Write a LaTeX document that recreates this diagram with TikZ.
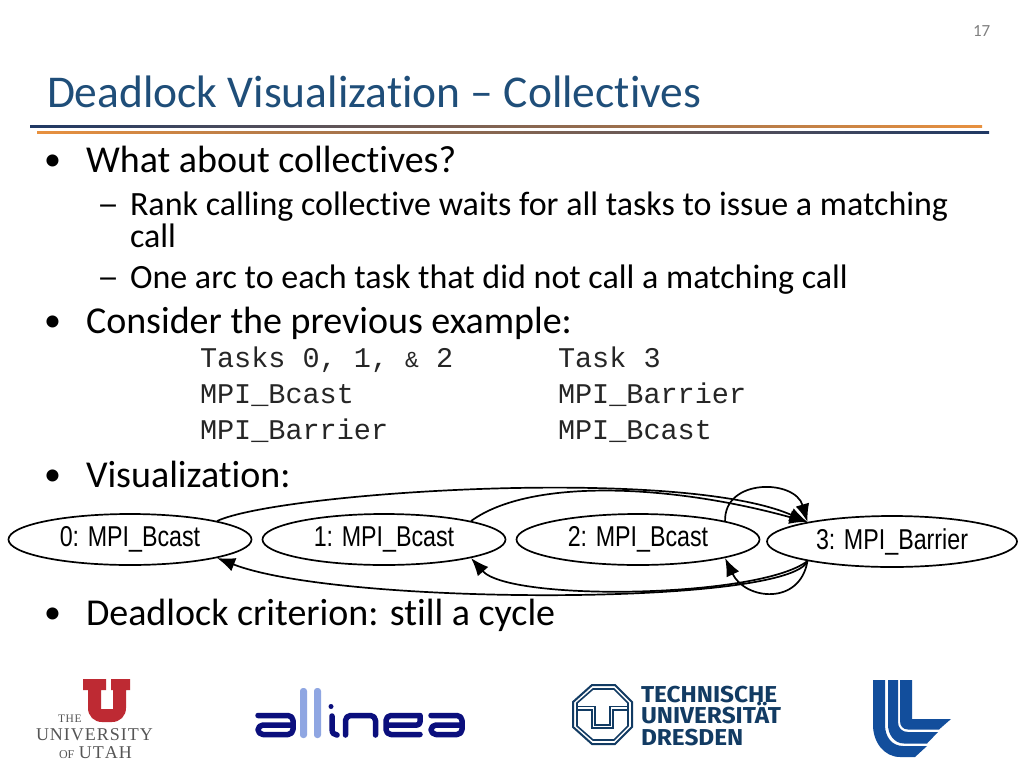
\documentclass[tikz,border=0pt]{standalone}
\usepackage{fontspec}
\setmainfont[Ligatures=NoCommon]{Carlito}
\newfontfamily\monof{Liberation Mono}
\newfontfamily\graphf[FakeStretch=0.81]{Liberation Sans}
\newfontfamily\serif{Liberation Serif}
\newfontfamily\tuf[FakeStretch=1.06]{Fira Sans}
\usetikzlibrary{shapes.geometric,arrows.meta}
\definecolor{titleblue}{HTML}{1F4E79}
\definecolor{ruledark}{HTML}{1F3864}
\definecolor{ruleorange}{HTML}{E8913F}
\definecolor{utahred}{HTML}{BE2A33}
\definecolor{utahgrey}{HTML}{555555}
\definecolor{allnavy}{HTML}{0B0F7D}
\definecolor{alllight}{HTML}{8FA6E2}
\definecolor{tublue}{HTML}{123B63}
\definecolor{llblue}{HTML}{124E9C}
\tikzset{
  x=1pt,y=-1pt,
  txt/.style={inner sep=0pt,outer sep=0pt,anchor=base west,text=black},
  lvlone/.style={txt,font=\fontsize{38}{40}\selectfont},
  lvltwo/.style={txt,font=\fontsize{34}{36}\selectfont},
  bul/.style={txt,font=\fontsize{34}{36}\selectfont},
  dashmark/.style={txt,font=\fontsize{34}{36}\selectfont},
  code/.style={txt,font=\monof\fontsize{28.5}{32}\selectfont,text=black!85},
  rank/.style={draw,line width=1.7pt,ellipse,inner sep=0pt,minimum width=243pt,minimum height=51pt,font=\graphf\fontsize{28.7}{30}\selectfont},
  arc/.style={line width=1.7pt,-{Latex[length=18pt,width=14pt]}},
}
\begin{document}
\begin{tikzpicture}
\useasboundingbox (0,0) rectangle (1024,768);
\fill[white] (0,0) rectangle (1024,768);
\node[txt,text=black!50,font=\fontsize{17}{18}\selectfont] (pg) at (973,37) {17};
\node[txt,text=titleblue,font=\fontsize{45.5}{46}\selectfont] (ttl) at (47,107) {Deadlock Visualization – Collectives};
\shade[left color=ruledark,right color=ruleorange] (30,125) rectangle (982,127);
\shade[left color=ruleorange,right color=ruledark] (37,131) rectangle (989,133);

\node[bul] (b0) at (44,170) {•};
\node[lvlone] (b1) at (86,172) {What about collectives?};
\node[dashmark] (d1) at (97,215) {\scalebox{1.3}[1]{–}};
\node[lvltwo] (s1) at (130,215) {Rank calling collective waits for all tasks to issue a matching};
\node[lvltwo] (s1b) at (130,247) {call};
\node[dashmark] (d2) at (97,288) {\scalebox{1.3}[1]{–}};
\node[lvltwo] (s2) at (130,288) {One arc to each task that did not call a matching call};
\node[bul] (b2) at (44,331) {•};
\node[lvlone] (b3) at (86,333) {Consider the previous example:};
\node[code] (c1) at (200,367) {Tasks 0, 1, {\fontsize{23}{24}\selectfont\&} 2};
\node[code] (c2) at (558,367) {Task 3};
\node[code] (c3) at (200,403) {MPI\_Bcast};
\node[code] (c4) at (558,403) {MPI\_Barrier};
\node[code] (c5) at (200,439) {MPI\_Barrier};
\node[code] (c6) at (558,439) {MPI\_Bcast};
\node[bul] (b4) at (44,485) {•};
\node[lvlone] (b5) at (86,487) {Visualization:};
\node[bul] (b6) at (44,623) {•};
\node[lvlone] (b7) at (86,625) {Deadlock criterion: still a cycle};

\node[rank] (n0) at (130,539.5) {0: MPI\_Bcast};
\node[rank] (n1) at (384,539.5) {1: MPI\_Bcast};
\node[rank] (n2) at (638,539.5) {2: MPI\_Bcast};
\node[rank,minimum width=250pt] (n3) at (892,541.5) {3: MPI\_Barrier};

\draw[arc] (n0.12) .. controls (280,492) and (680,466) .. (n3.167);
\draw[arc] (n1.12) .. controls (530,478) and (670,484) .. (n3.167);
\draw[arc] (n2.12) .. controls (724,478) and (795,479) .. (n3.167);
\draw[arc] (n3.193) .. controls (790,606) and (340,606) .. (n0.348);
\draw[arc] (n3.193) .. controls (760,598) and (510,602) .. (n1.348);
\draw[arc] (n3.193) .. controls (800,606) and (745,600) .. (n2.348);

% Utah
\fill[utahred] (83,679) -- (106,679) -- (106,690) -- (101,690) -- (101,709) -- (113,709) -- (113,690) -- (111,690) -- (111,679) -- (130,679) -- (130,690) -- (126,690) -- (126,708) .. controls (126,716) and (120,722) .. (112,722) -- (102,722) .. controls (94,722) and (88,716) .. (88,708) -- (88,690) -- (83,690) -- cycle;
\node[txt,text=utahgrey,font=\serif\fontsize{11.5}{12}\selectfont] (u1) at (58,722) {T\kern.7pt H\kern.7pt E};
\node[txt,text=utahgrey,font=\serif\fontsize{18}{20}\selectfont] (u2) at (36,740) {U\kern1pt N\kern1pt I\kern1pt V\kern1pt E\kern1pt R\kern1pt S\kern1pt I\kern1pt T\kern1pt Y};
\node[txt,text=utahgrey,font=\serif\fontsize{18}{20}\selectfont] (u3) at (59,758) {{\fontsize{12}{12}\selectfont OF} U\kern1pt T\kern1pt A\kern1pt H};

% allinea
\fill[alllight,rounded corners=3pt] (300,688) rectangle (307,738);
\fill[alllight,rounded corners=3pt] (314,688) rectangle (321,738);
\begin{scope}[draw=allnavy,line width=5.5pt,line cap=round,line join=round]
\draw[rounded corners=5pt] (258,715.5) -- (293,715.5) -- (293,734.5) -- (258,734.5) -- (258,725) -- (293,725);
\draw (332,716) -- (332,729) .. controls (332,733) and (334,735) .. (337,735);
\draw[rounded corners=5pt] (345.5,735) -- (345.5,715.5) -- (375.5,715.5) -- (375.5,735);
\draw[rounded corners=5pt] (420,715.5) -- (386,715.5) -- (386,734.5) -- (420,734.5);
\draw[rounded corners=3pt] (388,725) -- (420,725) -- (420,716);
\draw[rounded corners=5pt] (431,715.5) -- (462,715.5) -- (462,734.5) -- (431,734.5) -- (431,725) -- (462,725);
\end{scope}
\fill[allnavy] (331,706.5) circle (2.5);

% TU Dresden
\draw[tublue,line width=2pt] (592,685) -- (615,685) -- (632,702) -- (632,727) -- (615,744) -- (592,744) -- (573,727) -- (573,702) -- cycle;
\draw[tublue,line width=1.6pt] (593,689) -- (614,689) -- (628,703) -- (628,726) -- (614,740) -- (593,740) -- (577,726) -- (577,703) -- cycle;
\draw[tublue,line width=1.6pt] (577,706.5) -- (595,706.5) -- (595,725) -- (610,725) -- (610,706.5) -- (628,706.5);
\draw[tublue,line width=1.6pt] (577,710) -- (592,710) -- (592,728) -- (613,728) -- (613,710) -- (628,710);
\node[txt,text=tublue,font=\tuf\bfseries\fontsize{23}{24}\selectfont] (t1) at (641,702) {TECHNISCHE};
\node[txt,text=tublue,font=\tuf\bfseries\fontsize{23}{24}\selectfont] (t2) at (641,723.5) {UNIVERSITÄT};
\node[txt,text=tublue,font=\tuf\bfseries\fontsize{23}{24}\selectfont] (t3) at (641,745) {DRESDEN};

% LLNL
\fill[llblue] (873,680) -- (885,680) -- (885,725) .. controls (885,737) and (892,746) .. (903,746) -- (927,746) -- (915,757) -- (900,757) .. controls (884,757) and (873,742) .. (873,725) -- cycle;
\fill[llblue] (888,680) -- (898,680) -- (898,722) .. controls (898,728) and (902,732) .. (908,732) -- (938,732) -- (927,743.5) -- (904,743.5) .. controls (894,743.5) and (888,734) .. (888,725) -- cycle;
\fill[llblue] (900,680) -- (912,680) -- (912,719) -- (951,719) -- (939,729.5) -- (908,729.5) .. controls (903,729.5) and (900,726) .. (900,721) -- cycle;
\end{tikzpicture}
\end{document}
